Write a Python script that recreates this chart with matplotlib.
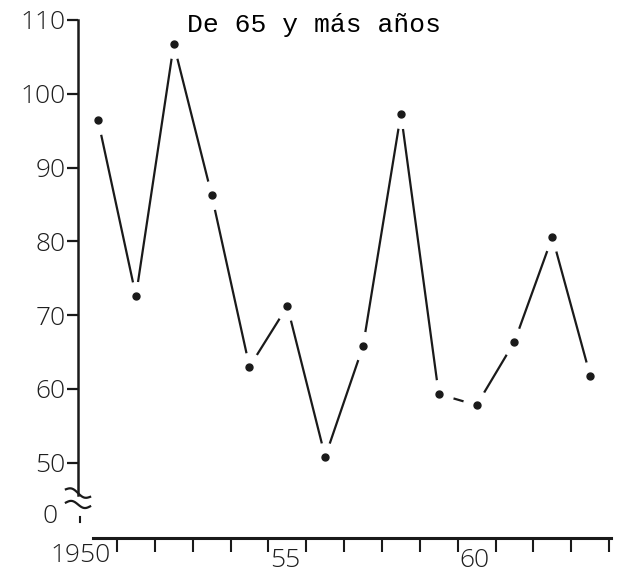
import numpy as np
import matplotlib
matplotlib.use('Agg')
import matplotlib.pyplot as plt

# annual values, age group 65 and over
years = [1950, 1951, 1952, 1953, 1954, 1955, 1956,
         1957, 1958, 1959, 1960, 1961, 1962, 1963]
values = [96.4, 72.6, 106.7, 86.3, 63.0, 71.2, 50.8,
          65.8, 97.3, 59.3, 57.8, 66.4, 80.6, 61.8]

y_ticks = [50, 60, 70, 80, 90, 100, 110]
x_label_years = [1950, 1955, 1960]
x_label_text = ['1950', '55', '60']
title = 'De 65 y más años'

ink = '#1a1a1a'
label_font = dict(family='Open Sans', weight='light', size=19, color='#1e1e1e')

fig = plt.figure(figsize=(6.24, 5.77), dpi=100)
ax = fig.add_axes([0.125, 0.0676, 0.856, 0.9012])
ax.set_xlim(1949.47, 1963.58)
ax.set_ylim(39.8, 110.27)

# the series: line, white gaps round each point, then the dots
ax.plot(years, values, color=ink, lw=1.6, zorder=2, solid_capstyle='round')
ax.plot(years, values, 'o', color='white', ms=20, zorder=3)
ax.plot(years, values, 'o', color=ink, ms=5, zorder=4)

# spines
for s in ['top', 'right']:
    ax.spines[s].set_visible(False)
ax.spines['left'].set_linewidth(1.8)
ax.spines['left'].set_color(ink)
ax.spines['left'].set_bounds(45.6, 110)
ax.spines['bottom'].set_linewidth(2.2)
ax.spines['bottom'].set_color(ink)
ax.spines['bottom'].set_bounds(1949.87, 1963.55)

# y ticks
ax.set_yticks(y_ticks)
ax.set_yticklabels([str(v) for v in y_ticks], fontdict=label_font)
ax.tick_params(axis='y', direction='out', length=8, width=1.6, color=ink, pad=1)

# x ticks sit at the year boundaries, labels to their left
ax.set_xticks(np.arange(years[0] + 0.5, years[-1] + 1))
ax.set_xticklabels([])
ax.tick_params(axis='x', direction='out', length=10, width=1.5, color=ink)
for yr, txt in zip(x_label_years, x_label_text):
    ax.annotate(txt, xy=(yr + 0.5, 0), xycoords=('data', 'axes fraction'),
                xytext=(-6, -18 if yr == 1950 else -23), textcoords='offset pixels',
                ha='right', va='center', **label_font)

# the broken-axis zero
ax.annotate('0', xy=(0, 42.7), xycoords=('axes fraction', 'data'),
            xytext=(-20, 0), textcoords='offset pixels',
            ha='right', va='center', **label_font)

# break marks on the y axis
bx = np.linspace(1949.15, 1949.79, 20)
wave = 0.35 * np.sin(np.linspace(0, 2 * np.pi, 20))
ax.plot(bx, 46.4 - (bx - bx[0]) * 1.6 + wave, color=ink, lw=1.6, clip_on=False)
ax.plot(bx, 44.6 - (bx - bx[0]) * 0.8 + wave, color=ink, lw=1.6, clip_on=False)
ax.plot([1949.52, 1949.52], [41.9, 42.7], color=ink, lw=1.5, clip_on=False)

fig.text(187 / 624, 1 - 25 / 577, title, family='Liberation Mono',
         size=19, color='black', ha='left', va='center')

fig.savefig('out.png', dpi=100, facecolor='white')
